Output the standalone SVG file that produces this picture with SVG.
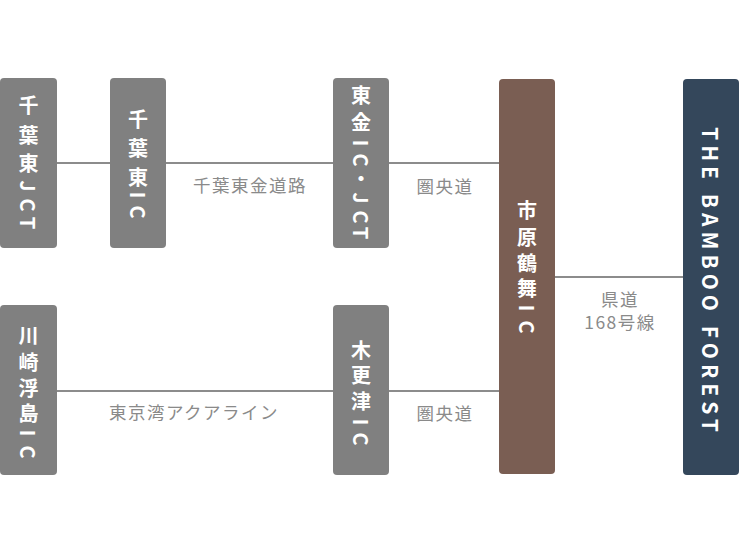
<svg xmlns="http://www.w3.org/2000/svg" width="740" height="555" viewBox="0 0 740 555">
<style>
.gray{fill:#808080}
.brown{fill:#7a5e53}
.navy{fill:#34475b}
.nt{font-family:"Noto Sans CJK JP","Noto Sans",sans-serif;font-weight:700;font-size:20px;fill:#ffffff;writing-mode:vertical-rl;text-anchor:middle}
.lbl{font-family:"Noto Sans CJK JP","Noto Sans",sans-serif;font-size:17.5px;fill:#8a8a8a;text-anchor:middle;dominant-baseline:central;letter-spacing:1.5px}
.ln{stroke:#8c8c8c;stroke-width:2;fill:none}
</style>
<rect width="740" height="555" fill="#ffffff"/>
<g id="connectors">
<line class="ln" x1="57" y1="163" x2="110" y2="163"/>
<line class="ln" x1="166" y1="163" x2="333" y2="163"/>
<line class="ln" x1="389" y1="163" x2="499" y2="163"/>
<line class="ln" x1="57" y1="391" x2="333" y2="391"/>
<line class="ln" x1="389" y1="391" x2="499" y2="391"/>
<line class="ln" x1="555" y1="277" x2="683" y2="277"/>
<text class="lbl" x="250" y="184">千葉東金道路</text>
<text class="lbl" x="445" y="185">圏央道</text>
<text class="lbl" x="445" y="412">圏央道</text>
<text class="lbl" x="194" y="411">東京湾アクアライン</text>
<text class="lbl" x="620" y="298">県道</text>
<text class="lbl" x="620" y="321">168号線</text>
</g>
<g id="n-chibahigashi-jct">
<rect class="gray" x="0" y="78" width="57" height="170" rx="4"/>
<text class="nt" x="28.5" y="105 135 163 186 205 223">千葉東JCT</text>
</g>
<g id="n-chibahigashi-ic">
<rect class="gray" x="110" y="78" width="56" height="170" rx="4"/>
<text class="nt" x="138" y="119 148 177 195 212">千葉東IC</text>
</g>
<g id="n-togane">
<rect class="gray" x="333" y="78" width="56" height="170" rx="4"/>
<text class="nt" x="361" y="95 122 143 160 178 198 217 233">東金IC・JCT</text>
</g>
<g id="n-kawasaki">
<rect class="gray" x="0" y="305" width="57" height="170" rx="4"/>
<text class="nt" x="28.5" y="335 362 388 413 433 452">川崎浮島IC</text>
</g>
<g id="n-kisarazu">
<rect class="gray" x="333" y="305" width="56" height="170" rx="4"/>
<text class="nt" x="361" y="350 375 401 422 439">木更津IC</text>
</g>
<g id="n-ichihara">
<rect class="brown" x="499" y="79" width="56" height="395" rx="4"/>
<text class="nt" x="527" y="210 237 263 288 308 327">市原鶴舞IC</text>
</g>
<g id="n-bamboo">
<rect class="navy" x="683" y="79" width="56" height="396" rx="4"/>
<text transform="translate(711,282) rotate(90)" style="font-family:'Noto Sans CJK JP','Noto Sans',sans-serif;font-weight:700;font-size:21px;fill:#ffffff;letter-spacing:5px" text-anchor="middle" dominant-baseline="central">THE BAMBOO FOREST</text>
</g>
</svg>
